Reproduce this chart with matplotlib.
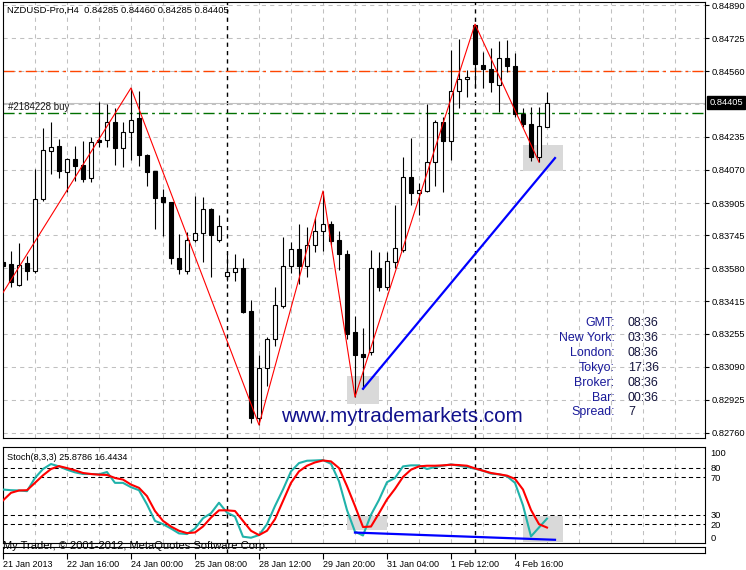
import numpy as np
import matplotlib
matplotlib.use("Agg")
import matplotlib.pyplot as plt
import matplotlib.transforms as mtransforms
from matplotlib.patches import Rectangle

# NZDUSD H4 candles
opens = [0.83611, 0.83601, 0.83497, 0.83606, 0.83566, 0.83925, 0.84164, 0.84189, 0.84059, 0.84124,
         0.84094, 0.84029, 0.84219, 0.84219, 0.84308, 0.84179, 0.84258, 0.84328, 0.84144, 0.84064,
         0.83935, 0.83910, 0.83631, 0.83566, 0.83721, 0.83756, 0.83875, 0.83721, 0.83541, 0.83561,
         0.83581, 0.83367, 0.82834, 0.83083, 0.83228, 0.83392, 0.83591, 0.83676, 0.83591, 0.83696,
         0.83765, 0.83800, 0.83721, 0.83651, 0.83262, 0.83153, 0.83163, 0.83581, 0.83487, 0.83611,
         0.83671, 0.84034, 0.83955, 0.83965, 0.84109, 0.84308, 0.84214, 0.84463, 0.84522, 0.84791,
         0.84592, 0.84572, 0.84493, 0.84627, 0.84587, 0.84348, 0.84298, 0.84134, 0.84285]
highs = [0.83736, 0.83666, 0.83706, 0.83641, 0.84074, 0.84278, 0.84308, 0.84224, 0.84129, 0.84189,
         0.84214, 0.84234, 0.84408, 0.84398, 0.84378, 0.84308, 0.84478, 0.84463, 0.84149, 0.84066,
         0.83975, 0.83912, 0.83751, 0.83760, 0.83940, 0.83935, 0.83880, 0.83845, 0.83651, 0.83651,
         0.83631, 0.83422, 0.83148, 0.83238, 0.83487, 0.83736, 0.83711, 0.83800, 0.83785, 0.83830,
         0.83965, 0.83815, 0.83765, 0.83671, 0.83342, 0.83282, 0.83671, 0.83661, 0.83661, 0.83895,
         0.84134, 0.84229, 0.84004, 0.84398, 0.84318, 0.84333, 0.84667, 0.84722, 0.84567, 0.84796,
         0.84657, 0.84677, 0.84712, 0.84717, 0.84652, 0.84378, 0.84383, 0.84383, 0.84460]
lows = [0.83521, 0.83487, 0.83492, 0.83521, 0.83556, 0.83915, 0.84049, 0.84029, 0.83960, 0.84014,
        0.84009, 0.84009, 0.84184, 0.84184, 0.84094, 0.84084, 0.84119, 0.84089, 0.83990, 0.83775,
        0.83741, 0.83601, 0.83551, 0.83551, 0.83711, 0.83611, 0.83536, 0.83711, 0.83516, 0.83516,
        0.83357, 0.82808, 0.82800, 0.82994, 0.83193, 0.83382, 0.83556, 0.83502, 0.83536, 0.83661,
        0.83666, 0.83696, 0.83571, 0.83228, 0.82939, 0.82979, 0.83148, 0.83467, 0.83472, 0.83581,
        0.83661, 0.83895, 0.83845, 0.83960, 0.83990, 0.83960, 0.84119, 0.84378, 0.84433, 0.84478,
        0.84478, 0.84458, 0.84358, 0.84557, 0.84333, 0.84283, 0.84114, 0.84109, 0.84285]
closes = [0.83591, 0.83511, 0.83596, 0.83566, 0.83925, 0.84169, 0.84184, 0.84064, 0.84124, 0.84089,
          0.84024, 0.84209, 0.84209, 0.84308, 0.84179, 0.84258, 0.84318, 0.84144, 0.84059, 0.83930,
          0.83910, 0.83631, 0.83576, 0.83721, 0.83756, 0.83875, 0.83746, 0.83790, 0.83561, 0.83581,
          0.83362, 0.82834, 0.83083, 0.83228, 0.83397, 0.83591, 0.83676, 0.83591, 0.83696, 0.83765,
          0.83800, 0.83716, 0.83651, 0.83253, 0.83148, 0.83138, 0.83581, 0.83487, 0.83616, 0.83681,
          0.84034, 0.83955, 0.83970, 0.84109, 0.84308, 0.84214, 0.84463, 0.84522, 0.84532, 0.84597,
          0.84572, 0.84507, 0.84627, 0.84587, 0.84348, 0.84298, 0.84134, 0.84288, 0.84405]

# Stochastic(8,3,3): main (%K) and signal (%D)
stoch_k = [56.8, 56.1, 55.8, 55.1, 69.1, 78.6, 83.9, 81.4, 77.9, 75.1,
           73.3, 73.3, 73.0, 75.4, 63.9, 63.9, 59.3, 56.1, 41.0, 23.5,
           20.0, 15.4, 10.2, 9.5, 15.4, 26.3, 31.6, 42.8, 32.3, 28.1,
           6.7, 5.6, 8.4, 20.0, 39.3, 56.8, 76.1, 84.9, 87.4, 87.7,
           88.1, 84.2, 65.6, 35.0, 12.0, 8.0, 30.0, 45.8, 64.6, 69.1,
           81.4, 82.5, 82.5, 78.6, 80.7, 82.1, 83.5, 82.1, 80.7, 78.9,
           76.8, 73.7, 73.0, 70.9, 63.9, 40.0, 7.0, 16.5, 25.9]
stoch_d = [45.2, 53.3, 55.8, 56.1, 63.9, 71.9, 78.6, 81.7, 79.6, 77.2,
           74.4, 73.3, 72.6, 72.3, 69.1, 67.4, 62.1, 58.6, 49.8, 34.0,
           23.5, 17.5, 13.0, 10.5, 11.2, 17.5, 27.0, 34.7, 34.7, 34.0,
           23.5, 13.0, 8.4, 13.0, 25.3, 44.6, 63.9, 76.1, 82.1, 85.6,
           87.7, 86.7, 79.6, 60.4, 39.3, 17.0, 17.5, 31.6, 46.3, 57.5,
           70.2, 77.9, 81.4, 82.1, 82.1, 82.5, 83.2, 82.8, 82.1, 79.3,
           76.8, 74.4, 73.0, 71.6, 68.1, 56.8, 35.1, 20.0, 16.4]

# zigzag pivots (bar index, price)
zz_bars = [-1, 16, 32, 40, 44, 59, 67]
zz_prices = [0.83395, 0.84478, 0.82800, 0.83965, 0.82939, 0.84796, 0.84109]

# divergence lines
trend_bars = [45, 69]
trend_prices = [0.82980, 0.84129]
stoch_trend_bars = [44, 69]
stoch_trend_vals = [11.1, 3.4]

# marked zones (bar from, bar to, low, high)
price_boxes = [(43, 47, 0.82902, 0.83045), (65, 70, 0.84066, 0.84194)]
stoch_boxes = [(43, 48, 14.0, 28.8), (65, 70, 1.2, 28.8)]

# horizontal levels
tp_level = 0.84560
bid_level = 0.84405
order_level = 0.84352

price_ticks = [0.84890, 0.84725, 0.84560, 0.84235, 0.84070, 0.83905, 0.83745,
               0.83580, 0.83415, 0.83255, 0.83090, 0.82925, 0.82760]
grid_prices = price_ticks + [0.84400]
time_bars = [0, 8, 16, 24, 32, 40, 48, 56, 64]
time_labels = ["21 Jan 2013", "22 Jan 16:00", "24 Jan 00:00", "25 Jan 08:00", "28 Jan 12:00",
               "29 Jan 20:00", "31 Jan 04:00", "1 Feb 12:00", "4 Feb 16:00"]
week_bars = [28, 59]
stoch_levels = [80, 70, 30, 20]
stoch_ticks = [0, 20, 30, 70, 80, 100]

info_names = ["GMT:", "New York:", "London:", "Tokyo:", "Broker:", "Bar:", "Spread:"]
info_values = ["08:36", "03:36", "08:36", "17:36", "08:36", "00:36", "7"]

plt.rcParams['font.family'] = ['Liberation Sans', 'DejaVu Sans']

W, H = 746, 570
fig = plt.figure(figsize=(W / 100, H / 100), dpi=100)
fig.patch.set_facecolor("white")


def px_box(x0, y0, x1, y1):
    return [x0 / W, 1 - y1 / H, (x1 - x0) / W, (y1 - y0) / H]


ax = fig.add_axes(px_box(2.5, 2, 705, 438))
ax2 = fig.add_axes(px_box(2.5, 447, 705, 543))
ax3 = fig.add_axes(px_box(2.5, 547, 705, 553))

xmin, xmax = -0.06, 87.75
grid_kw = dict(color="#c0c0c0", lw=0.75, ls=(0, (4, 4)), zorder=0)
sep_kw = dict(color="black", lw=1.0, ls=(0, (3, 3)), zorder=1)

# ---- main price window ----
o = np.array(opens); h = np.array(highs); l = np.array(lows); c = np.array(closes)
bars = np.arange(len(o))

for g in grid_prices:
    ax.axhline(g, **grid_kw)
for b in range(0, 88, 4):
    ax.axvline(b, **grid_kw)
for b in week_bars:
    ax.axvline(b, **sep_kw)

for b0, b1, lo, hi in price_boxes:
    ax.add_patch(Rectangle((b0, lo), b1 - b0, hi - lo, fc="#d9d9d9", ec="none", zorder=1))

ax.axhline(tp_level, color="#ff4500", lw=1.0, ls=(0, (8, 3, 2, 3)), zorder=2)
ax.axhline(bid_level, color="#c0c0c0", lw=0.8, zorder=2)
ax.axhline(order_level, color="#007000", lw=1.0, ls=(0, (8, 3, 2, 3)), zorder=2)

ax.vlines(bars, l, h, color="black", lw=0.8, zorder=3)
bull = c >= o
ax.bar(bars, np.abs(c - o), bottom=np.minimum(o, c), width=0.45,
       color=np.where(bull, "white", "black"), edgecolor="black", lw=0.8, zorder=4)

ax.plot(zz_bars, zz_prices, color="red", lw=0.8, zorder=5)
ax.plot(trend_bars, trend_prices, color="blue", lw=1.6, zorder=5)

ax.set_xlim(xmin, xmax)
ax.set_ylim(0.82735, 0.84906)
ax.set_xticks([])
ax.yaxis.tick_right()
ax.set_yticks(price_ticks)
ax.set_yticklabels([f"{p:.5f}" for p in price_ticks])
ax.tick_params(axis="y", length=3, width=0.8, pad=2, labelsize=6.7)

trans = mtransforms.blended_transform_factory(ax.transAxes, ax.transData)
ax.text(1.006, bid_level, f"{bid_level:.5f}", transform=trans, color="white", fontsize=6.7,
        va="center", ha="left", zorder=10,
        bbox=dict(boxstyle="square,pad=0.25", fc="black", ec="black"))

# ---- stochastic window ----
for b in range(0, 88, 4):
    ax2.axvline(b, **grid_kw)
for b in week_bars:
    ax2.axvline(b, **sep_kw)
for lv in stoch_levels:
    ax2.axhline(lv, color="black", lw=0.75, ls=(0, (4, 3)), zorder=1)
for b0, b1, lo, hi in stoch_boxes:
    ax2.add_patch(Rectangle((b0, lo), b1 - b0, hi - lo, fc="#d9d9d9", ec="none", zorder=1))

ax2.plot(bars, stoch_k, color="#20b2aa", lw=1.5, zorder=3)
ax2.plot(bars, stoch_d, color="red", lw=1.5, zorder=4)
ax2.plot(stoch_trend_bars, stoch_trend_vals, color="blue", lw=1.6, zorder=5)

ax2.set_xlim(xmin, xmax)
ax2.set_ylim(0, 102)
ax2.set_xticks([])
ax2.yaxis.tick_right()
ax2.set_yticks(stoch_ticks)
ax2.set_yticklabels([str(v) for v in stoch_ticks])
ax2.tick_params(axis="y", length=0, pad=4, labelsize=6.7)
ylabs = ax2.get_yticklabels()
ylabs[0].set_va("bottom")
ylabs[-1].set_va("top")

# ---- empty bottom window with time scale ----
for b in week_bars:
    ax3.axvline(b, **sep_kw)
ax3.set_xlim(xmin, xmax)
ax3.set_yticks([])
ax3.set_xticks(time_bars)
ax3.set_xticklabels(time_labels)
ax3.tick_params(axis="x", length=4, width=0.8, pad=1, labelsize=6.5)
for lab in ax3.get_xticklabels():
    lab.set_ha("left")

for a in (ax, ax2, ax3):
    for s in a.spines.values():
        s.set_linewidth(0.8)
        s.set_color("black")

# ---- texts ----
fig.text(7 / W, 1 - 10 / H, "NZDUSD-Pro,H4  0.84285 0.84460 0.84285 0.84405", fontsize=6.8, va="center")
fig.text(8 / W, 1 - 107.5 / H, "#2184228 buy", fontsize=7, va="center", color="#1a1a1a")
fig.text(7 / W, 1 - 458 / H, "Stoch(8,3,3) 25.8786 16.4434", fontsize=6.6, va="center")
fig.text(3 / W, 1 - 546 / H, "My Trader, \u00a9 2001-2012, MetaQuotes Software Corp.", fontsize=8, va="center")
fig.text(281 / W, 1 - 417 / H, "www.mytrademarkets.com", fontsize=14.9, va="center", color="#10108c")

for k, (name, val) in enumerate(zip(info_names, info_values)):
    yy = 1 - (323.3 + 14.85 * k) / H
    fig.text(614.5 / W, yy, name, fontsize=8.9, ha="right", va="center", color="#1a1a9a")
    fig.text(628 / W, yy, val, fontsize=8.9, ha="left", va="center", color="#14143c")

fig.savefig("out.png", dpi=100)
